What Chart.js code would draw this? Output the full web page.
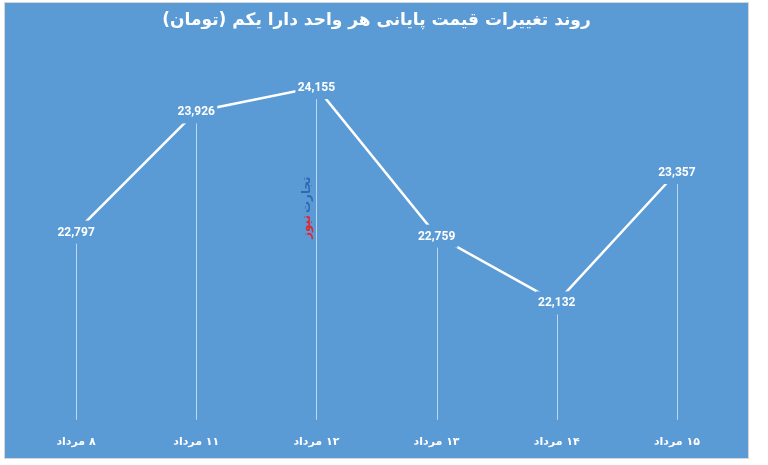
<!DOCTYPE html>
<html>
<head>
<meta charset="utf-8">
<script src="https://cdn.jsdelivr.net/npm/chart.js@4"></script>
<style>
  html, body { margin: 0; padding: 0; background: #fff; }
  #panel {
    position: absolute; left: 4px; top: 2px; width: 745px; height: 457px;
    background: #5b9bd5; border: 1px solid #d6d6d6; box-sizing: border-box;
  }
  #wrap { position: absolute; left: 0; top: 0; width: 768px; height: 465px; }
</style>
</head>
<body>
<div id="panel"></div>
<div id="wrap"><canvas id="mychart" dir="rtl"></canvas></div>
<script>
const days = ["۸ مرداد", "۱۱ مرداد", "۱۲ مرداد", "۱۳ مرداد", "۱۴ مرداد", "۱۵ مرداد"];
const prices = [22797, 23926, 24155, 22759, 22132, 23357];
const titleText = "روند تغییرات قیمت پایانی هر واحد دارا یکم (تومان)";

const bg = "#5b9bd5";

// خطوط عمودی از هر نقطه تا پایین + برچسب مقدار روی نقطه
const pointDecor = {
  id: "pointDecor",
  beforeDatasetsDraw(chart) {
    const { ctx, chartArea } = chart;
    const meta = chart.getDatasetMeta(0);
    ctx.save();
    ctx.strokeStyle = "rgba(255,255,255,0.6)";
    ctx.lineWidth = 1;
    meta.data.forEach((pt) => {
      const x = Math.round(pt.x) + 0.5;
      ctx.beginPath();
      ctx.moveTo(x, pt.y);
      ctx.lineTo(x, chartArea.bottom - 3);
      ctx.stroke();
    });
    ctx.restore();
  },
  afterDatasetsDraw(chart) {
    const { ctx } = chart;
    const meta = chart.getDatasetMeta(0);
    ctx.save();
    ctx.font = "bold 12px Roboto";
    ctx.textAlign = "center";
    ctx.textBaseline = "middle";
    meta.data.forEach((pt, i) => {
      ctx.fillStyle = bg;
      ctx.fillRect(pt.x - 21, pt.y - 11, 42, 23);
      ctx.fillStyle = "#fff";
      ctx.fillText(prices[i].toLocaleString("en-US"), pt.x, pt.y + 1);
    });
    ctx.restore();
  },
  afterDraw(chart) {
    // واترمارک تجارت نیوز
    const { ctx } = chart;
    const x = chart.scales.x.getPixelForValue(2) - 10;
    ctx.save();
    ctx.translate(x, 214);
    ctx.rotate(-Math.PI / 2);
    ctx.font = "bold 12px 'DejaVu Sans'";
    ctx.textBaseline = "middle";
    ctx.direction = "rtl";
    ctx.textAlign = "left";
    ctx.fillStyle = "#2f69b3";
    ctx.fillText("تجارت", 1, 0);
    ctx.textAlign = "right";
    ctx.fillStyle = "#e3262f";
    ctx.fillText("نیوز", -1, 0);
    ctx.restore();
  },
};

new Chart(document.getElementById("mychart"), {
  type: "line",
  data: {
    labels: days,
    datasets: [
      {
        data: prices,
        borderColor: "#fff",
        borderWidth: 2.5,
        pointRadius: 0,
        tension: 0,
      },
    ],
  },
  options: {
    responsive: true,
    maintainAspectRatio: false,
    animation: false,
    layout: { padding: { left: 16, right: 31, top: 0, bottom: 3 } },
    plugins: {
      legend: { display: false },
      tooltip: { enabled: false },
      title: {
        display: true,
        text: titleText,
        color: "#fff",
        font: { family: "'DejaVu Sans'", size: 17, weight: "bold" },
        padding: { top: 10, bottom: 20 },
      },
    },
    scales: {
      x: {
        offset: true,
        grid: { display: false, drawTicks: false },
        border: { display: false },
        ticks: {
          color: "#fff",
          padding: 13,
          font: { family: "'DejaVu Sans'", size: 11, weight: "bold" },
        },
      },
      y: {
        display: false,
        min: 21000,
        max: 24500,
      },
    },
  },
  plugins: [pointDecor],
});
</script>
</body>
</html>
